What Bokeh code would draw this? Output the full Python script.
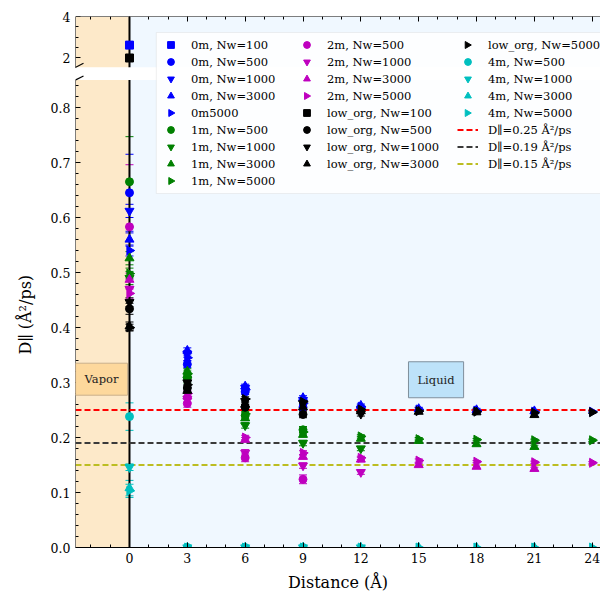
import math
from bokeh.plotting import figure
from bokeh.models import (Range1d, LinearAxis, FixedTicker, NumeralTickFormatter, BoxAnnotation,
                          Label, Legend, LegendItem, Whisker, TeeHead, ColumnDataSource, Arrow, Title)
from bokeh.embed import file_html
from bokeh.resources import INLINE

# ---------------- data ----------------
dist_100 = [0]
dist_500 = [0, 3, 6, 9]
dist_1000 = [0, 3, 6, 9, 12]
dist_3000 = [0, 3, 6, 9, 12, 15, 18, 21]
dist_5000 = [0, 3, 6, 9, 12, 15, 18, 21, 24]

# 0m (blue)
m0_nw100 = [2.62]
m0_nw100_err = [0.0]
m0_nw500 = [0.645, 0.333, 0.283, 0.255]
m0_nw500_err = [0.070, 0.006, 0.005, 0.006]
m0_nw1000 = [0.612, 0.352, 0.290, 0.268, 0.252]
m0_nw1000_err = [0.012, 0.006, 0.005, 0.005, 0.004]
m0_nw3000 = [0.560, 0.358, 0.293, 0.272, 0.258, 0.252, 0.250, 0.248]
m0_nw3000_err = [0.012, 0.005, 0.004, 0.004, 0.003, 0.003, 0.003, 0.003]
m0_nw5000 = [0.540, 0.345, 0.287, 0.262, 0.256, 0.251, 0.249, 0.247, 0.247]
m0_nw5000_err = [0.010, 0.005, 0.004, 0.004, 0.003, 0.003, 0.002, 0.002, 0.002]

# 1m (green)
m1_nw500 = [0.665, 0.310, 0.240, 0.214]
m1_nw500_err = [0.082, 0.006, 0.006, 0.006]
m1_nw1000 = [0.490, 0.305, 0.222, 0.190, 0.180]
m1_nw1000_err = [0.012, 0.006, 0.005, 0.005, 0.004]
m1_nw3000 = [0.526, 0.320, 0.235, 0.205, 0.198, 0.194, 0.188, 0.183]
m1_nw3000_err = [0.012, 0.005, 0.004, 0.004, 0.004, 0.003, 0.003, 0.003]
m1_nw5000 = [0.498, 0.316, 0.243, 0.210, 0.202, 0.197, 0.196, 0.195, 0.195]
m1_nw5000_err = [0.010, 0.005, 0.004, 0.004, 0.003, 0.003, 0.002, 0.002, 0.002]

# 2m (magenta)
m2_nw500 = [0.583, 0.262, 0.163, 0.124]
m2_nw500_err = [0.113, 0.007, 0.007, 0.008]
m2_nw1000 = [0.470, 0.270, 0.172, 0.149, 0.137]
m2_nw1000_err = [0.020, 0.006, 0.006, 0.005, 0.004]
m2_nw3000 = [0.487, 0.275, 0.196, 0.165, 0.160, 0.150, 0.147, 0.143]
m2_nw3000_err = [0.012, 0.005, 0.004, 0.004, 0.004, 0.003, 0.003, 0.003]
m2_nw5000 = [0.462, 0.280, 0.200, 0.172, 0.163, 0.158, 0.156, 0.155, 0.154]
m2_nw5000_err = [0.010, 0.005, 0.004, 0.004, 0.003, 0.003, 0.002, 0.002, 0.002]

# low_org (black)
lo_nw100 = [2.00]
lo_nw100_err = [0.0]
lo_nw500 = [0.434, 0.290, 0.255, 0.242]
lo_nw500_err = [0.010, 0.006, 0.005, 0.006]
lo_nw1000 = [0.446, 0.300, 0.266, 0.262, 0.243]
lo_nw1000_err = [0.008, 0.006, 0.005, 0.005, 0.004]
lo_nw3000 = [0.402, 0.285, 0.260, 0.255, 0.248, 0.247, 0.246, 0.241]
lo_nw3000_err = [0.008, 0.005, 0.004, 0.004, 0.004, 0.003, 0.003, 0.003]
lo_nw5000 = [0.400, 0.296, 0.270, 0.265, 0.251, 0.248, 0.247, 0.245, 0.246]
lo_nw5000_err = [0.006, 0.005, 0.004, 0.004, 0.003, 0.003, 0.002, 0.002, 0.002]

# 4m (cyan)
m4_nw500 = [0.238, 0.0, 0.0, 0.0]
m4_nw500_err = [0.025, 0.0, 0.0, 0.0]
m4_nw1000 = [0.146, 0.0, 0.0, 0.0, 0.0]
m4_nw1000_err = [0.006, 0.0, 0.0, 0.0, 0.0]
m4_nw3000 = [0.108, 0.0, 0.0, 0.0, 0.0, 0.0, 0.0, 0.0]
m4_nw3000_err = [0.014, 0.0, 0.0, 0.0, 0.0, 0.0, 0.0, 0.0]
m4_nw5000 = [0.103, 0.0, 0.0, 0.0, 0.0, 0.0, 0.0, 0.0, 0.0]
m4_nw5000_err = [0.012, 0.0, 0.0, 0.0, 0.0, 0.0, 0.0, 0.0, 0.0]

ref_levels = [0.25, 0.19, 0.15]
ref_labels = ["D∥=0.25 Å²/ps", "D∥=0.19 Å²/ps", "D∥=0.15 Å²/ps"]

x_ticks = [0, 3, 6, 9, 12, 15, 18, 21, 24]
y_ticks = [0.0, 0.1, 0.2, 0.3, 0.4, 0.5, 0.6, 0.7, 0.8]
y_top_ticks = [2, 4]

# ---------------- layout / styles ----------------
FONT = "DejaVu Serif"
BLUE, GREEN, MAG, BLACK, CYAN = "#0000ff", "#008000", "#bf00bf", "#000000", "#00bfbf"
VAPOR_BG, LIQUID_BG = "#fde9c9", "#f0f8ff"
RIGHT = -math.pi / 2

W, H = 600, 596
FRAME_L, FRAME_T, FRAME_B = 74, 16, 547
FRAME_W, FRAME_H = W - FRAME_L, FRAME_B - FRAME_T

X0, X1 = -2.8, 24.43
Y_END = 0.9655                  # lower panel scale
TOP_START, TOP_HI = -21.6, 4.0  # upper panel scale (same frame)
BOT_LO, BOT_HI = 0.0, 0.85
TOP_LO = 1.55
BOUNDARY = 0

px_per_x = FRAME_W / (X1 - X0)
px_per_y = FRAME_H / Y_END

p = figure(width=W, height=H, x_range=Range1d(X0, X1), y_range=Range1d(0, Y_END),
           output_backend="svg", toolbar_location=None,
           min_border_left=FRAME_L, min_border_right=0, min_border_top=FRAME_T,
           min_border_bottom=H - FRAME_B,
           x_axis_type=None, y_axis_type=None, outline_line_color=None,
           background_fill_color="white", border_fill_color="white")
p.extra_y_ranges = {"top": Range1d(TOP_START, TOP_HI)}
p.grid.visible = False


def style_axis(ax):
    ax.major_tick_in = 5
    ax.major_tick_out = 0
    ax.minor_tick_in = 3
    ax.minor_tick_out = 0
    ax.axis_line_color = "black"
    ax.major_tick_line_color = "black"
    ax.minor_tick_line_color = "black"
    ax.major_label_text_font = FONT
    ax.major_label_text_font_size = "12.5px"
    ax.major_label_text_color = "black"
    ax.axis_label_text_font = FONT
    ax.axis_label_text_font_size = "16px"
    ax.axis_label_text_font_style = "normal"
    ax.axis_label_text_color = "black"


x_minor = list(range(-2, 25))
xax = LinearAxis(ticker=FixedTicker(ticks=x_ticks, minor_ticks=x_minor), axis_label="Distance (Å)")
style_axis(xax)
xax.axis_label_standoff = 7
p.add_layout(xax, "below")

xax_top = LinearAxis(ticker=FixedTicker(ticks=x_ticks, minor_ticks=x_minor), fixed_location=Y_END,
                     major_label_overrides={t: "" for t in x_ticks})
style_axis(xax_top)
p.add_layout(xax_top, "above")

# spines + inward ticks of the two panels (fixed at the frame's left edge)
yax = LinearAxis(ticker=FixedTicker(ticks=y_ticks, minor_ticks=[round(0.02 * i, 2) for i in range(43)]),
                 bounds=(BOT_LO, BOT_HI), fixed_location=X0,
                 major_label_overrides={t: "" for t in y_ticks})
style_axis(yax)
p.add_layout(yax, "left")

yax_top = LinearAxis(y_range_name="top", ticker=FixedTicker(ticks=y_top_ticks, minor_ticks=[2.5, 3, 3.5]),
                     bounds=(TOP_LO, TOP_HI), fixed_location=X0,
                     major_label_overrides={t: "" for t in y_top_ticks})
style_axis(yax_top)
p.add_layout(yax_top, "left")

# tick labels of both panels on one plain axis (upper values mapped through the shared frame)
top_pos = [(v - TOP_START) / (TOP_HI - TOP_START) * Y_END for v in y_top_ticks]
lab_ax = LinearAxis(ticker=FixedTicker(ticks=y_ticks + top_pos, minor_ticks=[]),
                    formatter=NumeralTickFormatter(format="0.0"),
                    major_label_overrides={pos: str(v) for pos, v in zip(top_pos, y_top_ticks)})
style_axis(lab_ax)
lab_ax.axis_line_color = None
lab_ax.major_tick_in = 0
lab_ax.minor_tick_in = 0
lab_ax.major_label_standoff = 5
p.add_layout(lab_ax, "left")

# y axis title, centred on the lower panel
YLABEL = "D∥ (Å²/ps)"
p.add_layout(Title(text=YLABEL, align="left", offset=193, standoff=26, text_font=FONT,
                   text_font_size="16px", text_font_style="normal", text_color="black"), "left")

# panel backgrounds
for rn, lo, hi in [("default", BOT_LO, BOT_HI), ("top", TOP_LO, None)]:
    kw = dict(bottom=lo, y_range_name=rn, line_color=None, fill_alpha=1, level="underlay")
    if hi is not None:
        kw["top"] = hi
    p.add_layout(BoxAnnotation(right=BOUNDARY, fill_color=VAPOR_BG, **kw))
    p.add_layout(BoxAnnotation(left=BOUNDARY, fill_color=LIQUID_BG, **kw))

# legend frame (three transparent legend columns are laid on it)
PAD, GW, GH, LH, SP = 4, 21, 17, 17, 0
LEG_TOP = 32
col_ranges = [(0, 9), (9, 17), (17, 25)]
col_left = [155, 291, 452]
leg_h = 2 * PAD + 9 * GH
p.add_layout(BoxAnnotation(left=X0 + (col_left[0] - FRAME_L) / px_per_x, right=X1 + 1,
                           top=(FRAME_B - LEG_TOP) / px_per_y, bottom=(FRAME_B - LEG_TOP - leg_h) / px_per_y,
                           fill_color="white", fill_alpha=0.85, line_color="#cccccc", line_width=1,
                           level="underlay"))

# vertical boundary line
p.segment(x0=[BOUNDARY], y0=[BOT_LO], x1=[BOUNDARY], y1=[BOT_HI], line_color="black", line_width=2)
p.segment(x0=[BOUNDARY], y0=[TOP_LO], x1=[BOUNDARY], y1=[TOP_HI], line_color="black", line_width=2,
          y_range_name="top")

# reference dashed lines
ref_colors = ["#ff0000", "#3a3a3a", "#bcbd22"]
ref_renderers = []
for lvl, col in zip(ref_levels, ref_colors):
    r = p.line(x=[X0, X1], y=[lvl, lvl], line_color=col, line_width=2, line_dash="6 3")
    ref_renderers.append(r)

blank = p.line(x=[], y=[], line_alpha=0)

# series
series = [
    ("0m, Nw=100", dist_100, m0_nw100, m0_nw100_err, BLUE, "square", 0, "top"),
    ("0m, Nw=500", dist_500, m0_nw500, m0_nw500_err, BLUE, "circle", 0, "default"),
    ("0m, Nw=1000", dist_1000, m0_nw1000, m0_nw1000_err, BLUE, "inverted_triangle", 0, "default"),
    ("0m, Nw=3000", dist_3000, m0_nw3000, m0_nw3000_err, BLUE, "triangle", 0, "default"),
    ("0m5000", dist_5000, m0_nw5000, m0_nw5000_err, BLUE, "triangle", RIGHT, "default"),
    ("1m, Nw=500", dist_500, m1_nw500, m1_nw500_err, GREEN, "circle", 0, "default"),
    ("1m, Nw=1000", dist_1000, m1_nw1000, m1_nw1000_err, GREEN, "inverted_triangle", 0, "default"),
    ("1m, Nw=3000", dist_3000, m1_nw3000, m1_nw3000_err, GREEN, "triangle", 0, "default"),
    ("1m, Nw=5000", dist_5000, m1_nw5000, m1_nw5000_err, GREEN, "triangle", RIGHT, "default"),
    ("2m, Nw=500", dist_500, m2_nw500, m2_nw500_err, MAG, "circle", 0, "default"),
    ("2m, Nw=1000", dist_1000, m2_nw1000, m2_nw1000_err, MAG, "inverted_triangle", 0, "default"),
    ("2m, Nw=3000", dist_3000, m2_nw3000, m2_nw3000_err, MAG, "triangle", 0, "default"),
    ("2m, Nw=5000", dist_5000, m2_nw5000, m2_nw5000_err, MAG, "triangle", RIGHT, "default"),
    ("low_org, Nw=100", dist_100, lo_nw100, lo_nw100_err, BLACK, "square", 0, "top"),
    ("low_org, Nw=500", dist_500, lo_nw500, lo_nw500_err, BLACK, "circle", 0, "default"),
    ("low_org, Nw=1000", dist_1000, lo_nw1000, lo_nw1000_err, BLACK, "inverted_triangle", 0, "default"),
    ("low_org, Nw=3000", dist_3000, lo_nw3000, lo_nw3000_err, BLACK, "triangle", 0, "default"),
    ("low_org, Nw=5000", dist_5000, lo_nw5000, lo_nw5000_err, BLACK, "triangle", RIGHT, "default"),
    ("4m, Nw=500", dist_500, m4_nw500, m4_nw500_err, CYAN, "circle", 0, "default"),
    ("4m, Nw=1000", dist_1000, m4_nw1000, m4_nw1000_err, CYAN, "inverted_triangle", 0, "default"),
    ("4m, Nw=3000", dist_3000, m4_nw3000, m4_nw3000_err, CYAN, "triangle", 0, "default"),
    ("4m, Nw=5000", dist_5000, m4_nw5000, m4_nw5000_err, CYAN, "triangle", RIGHT, "default"),
]

items = []
right_keys = []   # legend keys that need a right-pointing triangle (legend glyphs are never rotated)
for idx, (label, xs, ys, es, col, marker, ang, rn) in enumerate(series):
    src = ColumnDataSource(dict(x=xs, y=ys,
                                upper=[y + e for y, e in zip(ys, es)],
                                lower=[y - e for y, e in zip(ys, es)]))
    p.add_layout(Whisker(base="x", upper="upper", lower="lower", source=src, dimension="height",
                         line_color=col, line_width=1, y_range_name=rn,
                         upper_head=TeeHead(size=8, line_color=col, line_width=1),
                         lower_head=TeeHead(size=8, line_color=col, line_width=1)))
    size = 8 if marker in ("circle", "square") else 9
    r = p.scatter(x="x", y="y", source=src, marker=marker, size=size, angle=ang,
                  fill_color=col, line_color=col, y_range_name=rn)
    if ang != 0:
        items.append(LegendItem(label=label, renderers=[blank]))
        right_keys.append((idx, col))
    else:
        items.append(LegendItem(label=label, renderers=[r]))

for lbl, r in zip(ref_labels, ref_renderers):
    items.append(LegendItem(label=lbl, renderers=[r]))

# axis break marks
for rn, yv, dy in [("default", BOT_HI, 4 / px_per_y), ("top", TOP_LO, 4 * (TOP_HI - TOP_START) / FRAME_H)]:
    p.add_layout(Arrow(end=None, x_start=X0 - 8 / px_per_x, y_start=yv - dy,
                       x_end=X0 + 8 / px_per_x, y_end=yv + dy,
                       line_color="black", line_width=1.2, y_range_name=rn))

# region labels
p.add_layout(Label(x=-1.45, y=0.306, text="Vapor", text_align="center", text_baseline="middle",
                   text_font=FONT, text_font_size="11.5px", text_color="#222222",
                   background_fill_color="#fdd89c", border_line_color="#c9b08c", padding=(9, 9)))
p.add_layout(Label(x=15.9, y=0.305, text="Liquid", text_align="center", text_baseline="middle",
                   text_font=FONT, text_font_size="11.5px", text_color="#222222",
                   background_fill_color="#bde2f9", border_line_color="#7f8f9c", padding=(9, 11)))

# legends (three transparent columns)
for k, ((a, b), left) in enumerate(zip(col_ranges, col_left)):
    n = b - a
    height = 2 * PAD + n * GH + (n - 1) * SP
    loc = (left - FRAME_L, FRAME_B - (LEG_TOP + height))
    lg = Legend(items=items[a:b], location=loc, margin=0, padding=PAD, spacing=SP,
                glyph_width=GW, glyph_height=GH, label_height=LH, label_standoff=10,
                label_text_font=FONT, label_text_font_size="11.5px", label_text_color="black",
                background_fill_alpha=0, border_line_alpha=0)
    p.add_layout(lg, "center")

# right-pointing triangle keys
kx, ky, kc = [], [], []
for idx, col in right_keys:
    k = next(j for j, (a, b) in enumerate(col_ranges) if a <= idx < b)
    row = idx - col_ranges[k][0]
    sx = col_left[k] + PAD + GW / 2
    sy = LEG_TOP + PAD + row * (GH + SP) + GH / 2
    kx.append(X0 + (sx - FRAME_L) / px_per_x)
    ky.append((FRAME_B - sy) / px_per_y)
    kc.append(col)
p.scatter(x=kx, y=ky, marker="triangle", size=7, angle=RIGHT, fill_color=kc, line_color=kc)

open("out.html", "w").write(file_html(p, INLINE))
